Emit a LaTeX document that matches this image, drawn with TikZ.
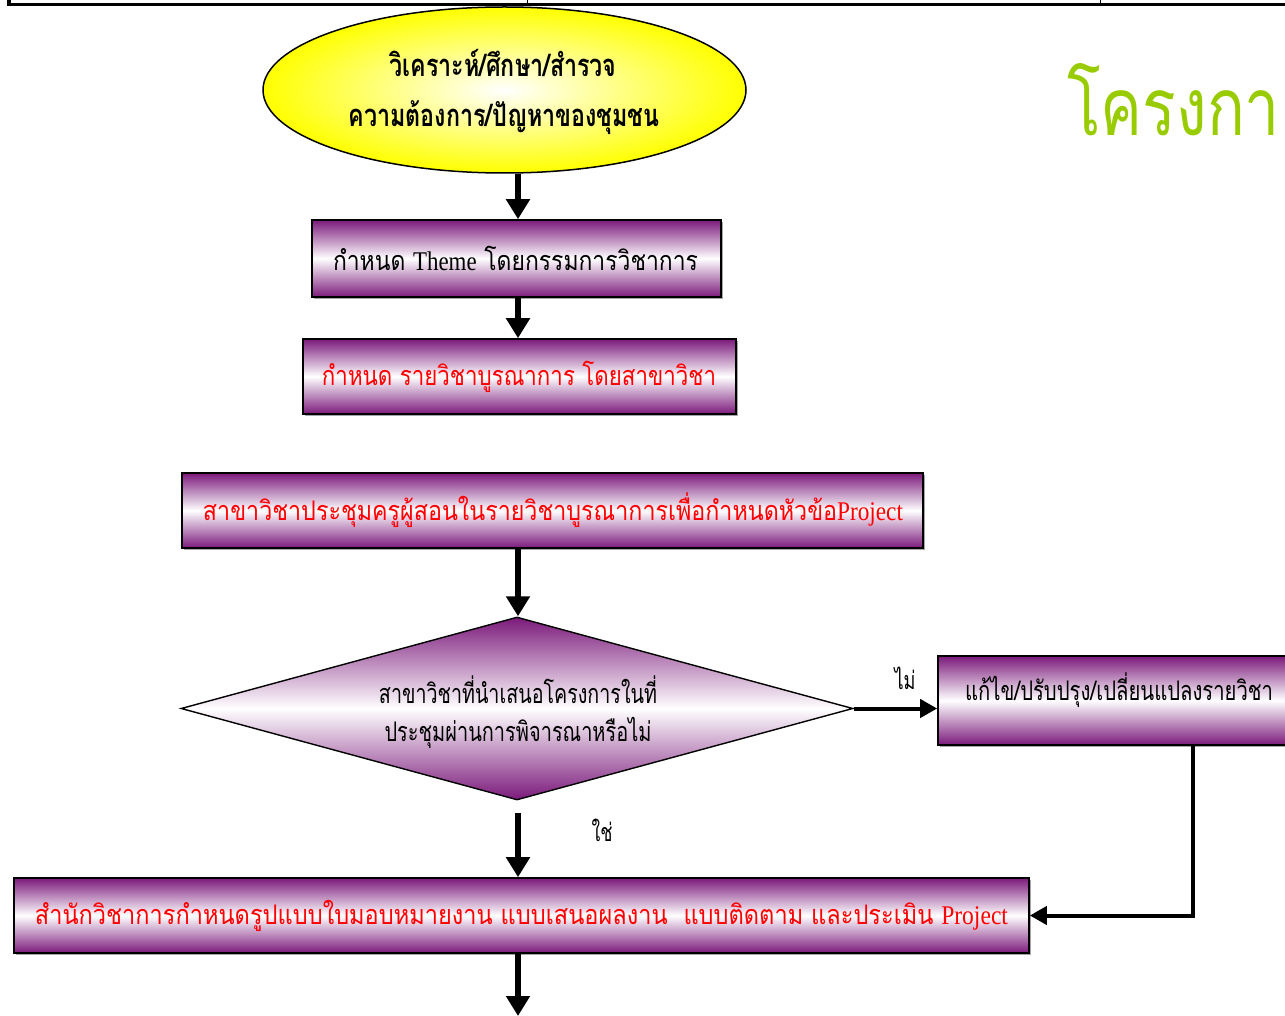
\documentclass[tikz,border=0pt]{standalone}
\usepackage{fontspec}
\usetikzlibrary{arrows.meta,shapes.geometric,shadows}
\newfontfamily\thai[Script=Thai]{Loma}
\newfontfamily\lat{Liberation Serif}
\definecolor{mpurple}{HTML}{7B1A7B}
\definecolor{tgreen}{HTML}{99CC00}
\newcommand{\fw}[2]{\resizebox{#1pt}{\height}{#2}}
\begin{document}
\begin{tikzpicture}[x=1pt,y=-1pt,
  boxsh/.style={draw=black, line width=1.6pt, rectangle, inner sep=0pt,
    top color=mpurple, bottom color=mpurple, middle color=white,
    drop shadow={shadow xshift=2pt, shadow yshift=-2pt, fill=gray!70, opacity=1}},
  dia/.style={draw=black, line width=1.4pt, diamond, inner sep=0pt,
    top color=mpurple, bottom color=mpurple, middle color=white},
  ttext/.style={font=\thai\fontsize{27}{30}\selectfont, inner sep=0pt},
  redt/.style={ttext, text=red},
  btext/.style={font=\thai\bfseries\fontsize{31}{34}\selectfont, inner sep=0pt},
  arr/.style={line width=5.5pt, -{Triangle[length=20pt,width=23pt]}},
  arrs/.style={line width=4pt, -{Triangle[length=17pt,width=18pt]}},
  lbl/.style={font=\thai\fontsize{25}{28}\selectfont, inner sep=0pt}]
\useasboundingbox (0,0) rectangle (1285,1016);
% remains of table above
\draw[line width=3pt] (7,5) -- (1290,5);
\draw[line width=3.5pt] (9,0) -- (9,6.5);
\draw[line width=1pt] (527,0) -- (527,5);
\draw[line width=1pt] (1100,0) -- (1100,5);
\coordinate (ax) at (518,0);
% start ellipse
\node[ellipse, draw=black, line width=1.5pt, minimum width=483pt, minimum height=166pt,
  inner color=white, outer color=yellow] (ell) at (504.5,90) {};
\node[btext] (e1) at (503,63) {\fw{227}{วิเคราะห์/ศึกษา/สำรวจ}};
\node[btext] (e2) at (504,118) {\fw{311}{ความต้องการ/ปัญหาของชุมชน}};
% title
\node[anchor=west, text=tgreen, font=\thai\fontsize{80}{90}\selectfont, inner sep=0pt] (title) at (1067,100) {\fw{213}{โครงกา}};
% boxes
\node[boxsh, minimum width=409pt, minimum height=77pt] (b1) at (516.5,258.5) {};
\node[ttext] (b1t) at (515.5,258) {\fw{365}{กำหนด {\lat Theme} โดยกรรมการวิชาการ}};
\node[boxsh, minimum width=433pt, minimum height=75pt] (b2) at (519.5,376.5) {};
\node[redt] (b2t) at (519,377) {\fw{394}{กำหนด รายวิชาบูรณาการ โดยสาขาวิชา}};
\node[boxsh, minimum width=741pt, minimum height=75pt] (b3) at (552.5,510.5) {};
\node[redt] (b3t) at (553,510) {\fw{700}{สาขาวิชาประชุมครูผู้สอนในรายวิชาบูรณาการเพื่อกำหนดหัวข้อ{\lat Project}}};
\node[dia, minimum width=672pt, minimum height=183pt] (dm) at (517,708.5) {};
\node[ttext] (d1) at (518,690) {\fw{278}{สาขาวิชาที่นำเสนอโครงการในที่}};
\node[ttext] (d2) at (518,733) {\fw{267}{ประชุมผ่านการพิจารณาหรือไม่}};
\node[boxsh, minimum width=362pt, minimum height=89pt] (b4) at (1119,700.5) {};
\node[ttext] (b4t) at (1119,690) {\fw{308}{แก้ไข/ปรับปรุง/เปลี่ยนแปลงรายวิชา}};
\node[boxsh, minimum width=1015pt, minimum height=75pt] (b5) at (521.5,915.5) {};
\node[redt] (b5t) at (521.5,916) {\fw{973}{สำนักวิชาการกำหนดรูปแบบใบมอบหมายงาน แบบเสนอผลงาน~ แบบติดตาม และประเมิน {\lat Project}}};
% labels
\node[lbl] (no) at (905,678) {\fw{21}{ไม่}};
\node[lbl] (yes) at (602,830) {\fw{21}{ใช่}};
\coordinate (corner) at (1193,915.5);
\coordinate (bend) at (518,1016);
% connectors
\draw[arr] (ell.south -| ax) -- (b1.north -| ax);
\draw[arr] (b1.south -| ax) -- (b2.north -| ax);
\draw[arr] (b3.south -| ax) -- (dm.north -| ax);
\draw[arr, shorten <=12pt] (dm.south -| ax) -- (b5.north -| ax);
\draw[arr] (b5.south -| ax) -- (bend);
\draw[arrs] (dm.east) -- (dm.east -| b4.west);
\draw[arrs] (b4.south -| corner) -- (corner) -- (b5.east);
\end{tikzpicture}
\end{document}
